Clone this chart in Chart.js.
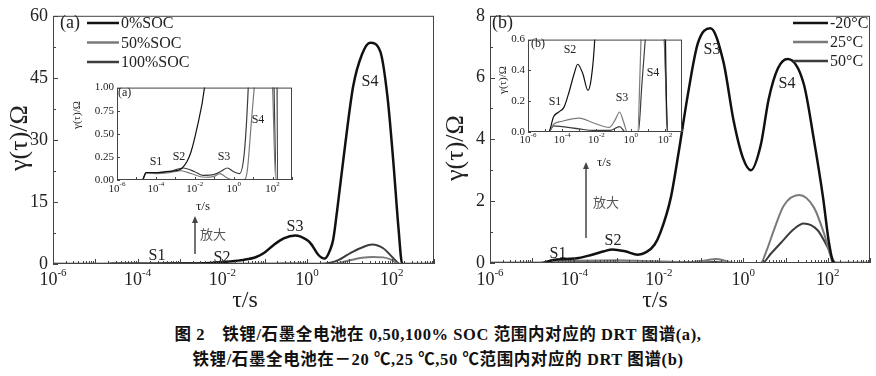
<!DOCTYPE html>
<html>
<head>
<meta charset="utf-8">
<script src="https://cdn.jsdelivr.net/npm/chart.js@4.4.0/dist/chart.umd.min.js"></script>
<style>
    html, body { margin: 0; padding: 0; background: #fff; }
    body { width: 876px; height: 376px; position: relative; overflow: hidden; }
    canvas { position: absolute; }
    #caption {
        position: absolute; left: 0; top: 322px; width: 876px; text-align: center;
        font: bold 16.5px "Liberation Serif", "Noto Sans CJK SC", serif; line-height: 25px;
        letter-spacing: 0.6px; color: #111;
    }
</style>
</head>
<body>
<canvas id="mainA" width="440" height="320" style="left:0;top:0"></canvas>
<canvas id="mainB" width="436" height="320" style="left:440px;top:0"></canvas>
<canvas id="insetA" width="229" height="140" style="left:68px;top:78px"></canvas>
<canvas id="insetB" width="196" height="145" style="left:492px;top:30px"></canvas>
<div id="caption">
    图 2　铁锂/石墨全电池在 0,50,100% SOC 范围内对应的 DRT 图谱(a),<br>
    铁锂/石墨全电池在－20 ℃,25 ℃,50 ℃范围内对应的 DRT 图谱(b)
</div>
<script>
// ---- data (log10 of tau in s, gamma in ohm) ----
const socLabels = ['0%SOC', '50%SOC', '100%SOC'];
const tempLabels = ['-20°C', '25°C', '50°C'];

const soc0Tau = [-6, -4.7, -4.5, -4, -3.5, -3, -2.7, -2.4, -2.2, -1.9, -1.5, -1.2, -1.0, -0.8, -0.55, -0.28, 0.0, 0.1, 0.26, 0.42, 0.55, 0.62, 0.71, 0.9, 1.09, 1.3, 1.49, 1.73, 1.9, 2.04, 2.16, 2.25, 3];
const soc0Gamma = [0, 0, 0.08, 0.08, 0.09, 0.1, 0.12, 0.2, 0.3, 0.55, 1.0, 1.7, 2.8, 4.5, 6.2, 6.9, 5.8, 4.8, 2.3, 1.3, 3.5, 6.0, 12.8, 28.7, 42.9, 50.7, 53.5, 51.4, 40.5, 24.6, 8.8, 0, 0];

const soc50Tau = [-6, -4.7, -4.5, -4, -3.3, -2.7, -2.2, -1.5, -1.0, -0.7, -0.4, 0, 0.5, 0.7, 0.9, 1.1, 1.3, 1.55, 1.8, 2.0, 2.16, 3];
const soc50Gamma = [0, 0, 0.08, 0.07, 0.08, 0.1, 0.07, 0.03, 0.04, 0.07, 0.03, 0, 0, 0.1, 0.6, 1.1, 1.5, 1.7, 1.6, 1.0, 0, 0];

const soc100Tau = [-6, -4.7, -4.5, -4, -3.3, -2.6, -2.0, -1.6, -1.0, -0.6, -0.33, 0.0, 0.3, 0.55, 0.75, 0.95, 1.09, 1.3, 1.54, 1.8, 2.04, 2.2, 3];
const soc100Gamma = [0, 0, 0.08, 0.08, 0.09, 0.13, 0.09, 0.05, 0.06, 0.1, 0.13, 0.09, 0.07, 0.3, 1.0, 2.2, 3.0, 4.0, 4.7, 3.8, 1.4, 0, 0];

const tM20Tau = [-6, -4.8, -4.5, -4.2, -3.9, -3.6, -3.3, -3.1, -2.8, -2.5, -2.3, -2.1, -1.96, -1.72, -1.53, -1.32, -1.08, -0.78, -0.47, -0.23, -0.01, 0.18, 0.41, 0.6, 0.82, 1.05, 1.43, 1.67, 1.89, 2.03, 2.15, 3];
const tM20Gamma = [0, 0, 0.1, 0.13, 0.16, 0.26, 0.38, 0.44, 0.38, 0.27, 0.35, 0.6, 1.0, 2.1, 3.6, 5.4, 7.1, 7.6, 6.5, 4.6, 3.4, 3.0, 3.8, 5.3, 6.3, 6.6, 5.8, 4.0, 2.1, 0.64, 0, 0];

const t25Tau = [-6, -4.8, -4.5, -4, -3.0, -2.2, -1.24, -0.9, -0.65, -0.4, -0.2, 0.41, 0.55, 0.72, 0.96, 1.32, 1.67, 1.91, 2.07, 2.12, 3];
const t25Gamma = [0, 0, 0.05, 0.07, 0.09, 0.06, 0.03, 0.08, 0.13, 0.06, 0, 0, 0.4, 1.05, 1.86, 2.2, 1.8, 0.96, 0.2, 0, 0];

const t50Tau = [-6, -4.8, -4.5, -4, -3.0, -2.2, -1.2, -0.65, -0.3, 0.45, 0.65, 0.88, 1.2, 1.43, 1.76, 2.0, 2.19, 3];
const t50Gamma = [0, 0, 0.04, 0.035, 0.02, 0.01, 0.01, 0.035, 0, 0, 0.3, 0.64, 1.1, 1.28, 1.06, 0.5, 0, 0];

// tick labels
const xLabelExps = [-6, -4, -2, 0, 2];
const yTicksA = [0, 15, 30, 45, 60];
const yTicksB = [0, 2, 4, 6, 8];
const yTicksInsetA = [0, 0.25, 0.5, 0.75, 1];
const yTicksInsetB = [0, 0.2, 0.4, 0.6];

const SERIF = '"Liberation Serif", "DejaVu Serif", serif';
const CJK = '"Noto Sans CJK SC", sans-serif';
const decades = [-6, -5, -4, -3, -2, -1, 0, 1, 2, 3];

const toPoints = (tau, gamma) => tau.map((t, i) => ({ x: Math.pow(10, t), y: gamma[i] }));

/**
 * "10" with a raised exponent, centred on x.
 */
const drawPow = (ctx, x, y, exp, size) => {
    const small = Math.round(size * 0.62);
    ctx.font = `${size}px ${SERIF}`;
    const w1 = ctx.measureText('10').width;
    ctx.font = `${small}px ${SERIF}`;
    const w2 = ctx.measureText(String(exp)).width;
    const x0 = x - (w1 + w2) / 2;
    ctx.textAlign = 'left';
    ctx.textBaseline = 'middle';
    ctx.font = `${size}px ${SERIF}`;
    ctx.fillText('10', x0, y);
    ctx.font = `${small}px ${SERIF}`;
    ctx.fillText(String(exp), x0 + w1, y - size * 0.4);
};

// Frame, inward ticks, power labels, legend and text notes
const decorPlugin = {
    id: 'decor',
    beforeDraw(chart, args, o) {
        if (!o.fill) return;
        const a = chart.chartArea, ctx = chart.ctx;
        ctx.save();
        ctx.fillStyle = '#fff';
        ctx.fillRect(a.left, a.top, a.right - a.left, a.bottom - a.top);
        ctx.restore();
    },
    afterDraw(chart, args, o) {
        const ctx = chart.ctx, a = chart.chartArea;
        const xs = chart.scales.x, ys = chart.scales.y;
        ctx.save();
        ctx.strokeStyle = '#444';
        ctx.lineWidth = 1;
        ctx.strokeRect(a.left + 0.5, a.top + 0.5, a.right - a.left - 1, a.bottom - a.top - 1);

        // x ticks, pointing into the plot
        ctx.beginPath();
        decades.forEach(e => {
            const px = Math.round(xs.getPixelForValue(Math.pow(10, e))) + 0.5;
            ctx.moveTo(px, a.bottom); ctx.lineTo(px, a.bottom - o.major);
            if (o.minor && e < 3) {
                for (let k = 2; k <= 9; k++) {
                    const mx = Math.round(xs.getPixelForValue(k * Math.pow(10, e))) + 0.5;
                    ctx.moveTo(mx, a.bottom); ctx.lineTo(mx, a.bottom - o.minor);
                }
            }
        });
        // y ticks
        const yt = o.yTicks;
        yt.forEach((v, i) => {
            const py = Math.round(ys.getPixelForValue(v)) + 0.5;
            ctx.moveTo(a.left, py); ctx.lineTo(a.left + o.major, py);
            if (o.minor && i < yt.length - 1) {
                const my = Math.round(ys.getPixelForValue((v + yt[i + 1]) / 2)) + 0.5;
                ctx.moveTo(a.left, my); ctx.lineTo(a.left + o.minor, my);
            }
        });
        ctx.stroke();

        ctx.fillStyle = '#222';
        xLabelExps.forEach(e => drawPow(ctx, xs.getPixelForValue(Math.pow(10, e)), a.bottom + o.labelGap, e, o.labelSize));

        // legend
        if (o.legend) {
            const L = o.legend;
            chart.data.datasets.forEach((ds, i) => {
                const y = L.y + i * L.gap;
                ctx.strokeStyle = ds.borderColor;
                ctx.lineWidth = 2.5;
                ctx.beginPath(); ctx.moveTo(L.x, y); ctx.lineTo(L.x + L.len, y); ctx.stroke();
                ctx.fillStyle = '#222';
                ctx.font = `${L.size}px ${SERIF}`;
                ctx.textAlign = 'left'; ctx.textBaseline = 'middle';
                ctx.fillText(ds.label, L.x + L.len + 2, y + 1);
            });
        }

        // arrow
        if (o.arrow) {
            const w = o.arrow;
            ctx.strokeStyle = '#444'; ctx.fillStyle = '#444'; ctx.lineWidth = 1.5;
            ctx.beginPath(); ctx.moveTo(w.x, w.y1); ctx.lineTo(w.x, w.y2 + 5); ctx.stroke();
            ctx.beginPath(); ctx.moveTo(w.x, w.y2); ctx.lineTo(w.x - 3, w.y2 + 7); ctx.lineTo(w.x + 3, w.y2 + 7); ctx.closePath(); ctx.fill();
        }

        // texts
        (o.notes || []).forEach(n => {
            ctx.save();
            ctx.translate(n.x, n.y);
            if (n.rot) ctx.rotate(n.rot);
            ctx.fillStyle = n.color || '#222';
            ctx.font = `${n.size}px ${n.font || SERIF}`;
            ctx.textAlign = n.align || 'center';
            ctx.textBaseline = 'middle';
            ctx.fillText(n.text, 0, 0);
            ctx.restore();
        });
        ctx.restore();
    }
};

const buildChart = (id, cfg) => new Chart(document.getElementById(id), {
    type: 'line',
    data: {
        datasets: cfg.series.map(s => ({
            label: s.label,
            data: toPoints(s.tau, s.gamma),
            borderColor: s.color,
            borderWidth: s.width,
            pointRadius: 0,
            fill: false,
            tension: 0.4,
            cubicInterpolationMode: 'monotone',
        })),
    },
    options: {
        responsive: false,
        animation: false,
        devicePixelRatio: 1,
        layout: { padding: cfg.padding },
        plugins: {
            legend: { display: false },
            tooltip: { enabled: false },
            decor: cfg.decor,
        },
        scales: {
            x: {
                type: 'logarithmic',
                min: 1e-6,
                max: 1e3,
                ticks: { display: false },
                grid: { display: false, drawTicks: false },
                border: { display: false },
                afterBuildTicks: s => { s.ticks = decades.map(e => ({ value: Math.pow(10, e) })); },
                afterFit: s => { s.height = cfg.xHeight; },
            },
            y: {
                min: cfg.yTicks[0],
                max: cfg.yTicks[cfg.yTicks.length - 1],
                afterBuildTicks: s => { s.ticks = cfg.yTicks.map(v => ({ value: v })); },
                ticks: {
                    font: { family: SERIF, size: cfg.yLabelSize },
                    color: '#222',
                    padding: cfg.yPad,
                    callback: v => cfg.fmt(v),
                },
                grid: { display: false, drawTicks: false },
                border: { display: false },
                afterFit: s => { s.width = cfg.yWidth; },
            },
        },
    },
    plugins: [decorPlugin],
});

const socSeries = (w, w0) => [
    { label: socLabels[0], tau: soc0Tau, gamma: soc0Gamma, color: '#111', width: w0 },
    { label: socLabels[1], tau: soc50Tau, gamma: soc50Gamma, color: '#7a7a7a', width: w },
    { label: socLabels[2], tau: soc100Tau, gamma: soc100Gamma, color: '#3c3c3c', width: w },
];
const tempSeries = (w, w0) => [
    { label: tempLabels[0], tau: tM20Tau, gamma: tM20Gamma, color: '#111', width: w0 },
    { label: tempLabels[1], tau: t25Tau, gamma: t25Gamma, color: '#7a7a7a', width: w },
    { label: tempLabels[2], tau: t50Tau, gamma: t50Gamma, color: '#3c3c3c', width: w },
];

buildChart('mainA', {
    series: socSeries(2, 2.5),
    padding: { top: 11, right: 6, bottom: 0, left: 0 },
    xHeight: 56, yWidth: 53, yPad: 5, yLabelSize: 18,
    yTicks: yTicksA, fmt: v => String(v),
    decor: {
        major: 5, minor: 3, yTicks: yTicksA, labelSize: 18, labelGap: 16,
        legend: { x: 87, y: 23, gap: 19.5, len: 32, size: 16 },
        arrow: { x: 195, y1: 254, y2: 216 },
        notes: [
            { text: '(a)', x: 60, y: 23, size: 18, align: 'left' },
            { text: 'S1', x: 157, y: 256, size: 16 },
            { text: 'S2', x: 222, y: 258, size: 16 },
            { text: 'S3', x: 295, y: 227, size: 16 },
            { text: 'S4', x: 370, y: 82, size: 16 },
            { text: '放大', x: 213, y: 234, size: 13, font: CJK, color: '#555' },
            { text: 'γ(τ)/Ω', x: 20, y: 138, size: 26, rot: -Math.PI / 2 },
            { text: 'τ/s', x: 245, y: 301, size: 24 },
        ],
    },
});

buildChart('mainB', {
    series: tempSeries(2, 2.5),
    padding: { top: 12, right: 6, bottom: 0, left: 0 },
    xHeight: 57, yWidth: 50, yPad: 5, yLabelSize: 18,
    yTicks: yTicksB, fmt: v => String(v),
    decor: {
        major: 5, minor: 3, yTicks: yTicksB, labelSize: 18, labelGap: 17,
        legend: { x: 353, y: 23, gap: 19, len: 35, size: 16 },
        arrow: { x: 146, y1: 238, y2: 162 },
        notes: [
            { text: '(b)', x: 52, y: 23, size: 18, align: 'left' },
            { text: 'S1', x: 118, y: 254, size: 16 },
            { text: 'S2', x: 173, y: 241, size: 16 },
            { text: 'S3', x: 272, y: 50, size: 16 },
            { text: 'S4', x: 347, y: 84, size: 16 },
            { text: '放大', x: 166, y: 202, size: 13, font: CJK, color: '#555' },
            { text: 'γ(τ)/Ω', x: 16, y: 148, size: 26, rot: -Math.PI / 2 },
            { text: 'τ/s', x: 215, y: 301, size: 24 },
        ],
    },
});

buildChart('insetA', {
    series: socSeries(1.2, 1.2),
    padding: { top: 7, right: 5, bottom: 0, left: 0 },
    xHeight: 38, yWidth: 49, yPad: 3, yLabelSize: 11,
    yTicks: yTicksInsetA, fmt: v => v.toFixed(2),
    decor: {
        fill: true, major: 3, minor: 0, yTicks: yTicksInsetA, labelSize: 11, labelGap: 9,
        notes: [
            { text: '(a)', x: 50, y: 15, size: 12, align: 'left' },
            { text: 'S1', x: 88, y: 84, size: 12 },
            { text: 'S2', x: 111, y: 79, size: 12 },
            { text: 'S3', x: 156, y: 79, size: 12 },
            { text: 'S4', x: 190, y: 42, size: 12 },
            { text: 'γ(τ)/Ω', x: 9, y: 37, size: 11, rot: -Math.PI / 2 },
            { text: 'τ/s', x: 135, y: 129, size: 13 },
        ],
    },
});

buildChart('insetB', {
    series: tempSeries(1.2, 1.2),
    padding: { top: 8, right: 6, bottom: 0, left: 0 },
    xHeight: 43, yWidth: 36, yPad: 3, yLabelSize: 11,
    yTicks: yTicksInsetB, fmt: v => v.toFixed(1),
    decor: {
        fill: true, major: 3, minor: 0, yTicks: yTicksInsetB, labelSize: 11, labelGap: 8,
        notes: [
            { text: '(b)', x: 39, y: 14, size: 12, align: 'left' },
            { text: 'S1', x: 63, y: 72, size: 12 },
            { text: 'S2', x: 78, y: 20, size: 12 },
            { text: 'S3', x: 130, y: 68, size: 12 },
            { text: 'S4', x: 161, y: 43, size: 12 },
            { text: 'γ(τ)/Ω', x: 11, y: 50, size: 11, rot: -Math.PI / 2 },
            { text: 'τ/s', x: 112, y: 133, size: 13 },
        ],
    },
});
</script>
</body>
</html>
